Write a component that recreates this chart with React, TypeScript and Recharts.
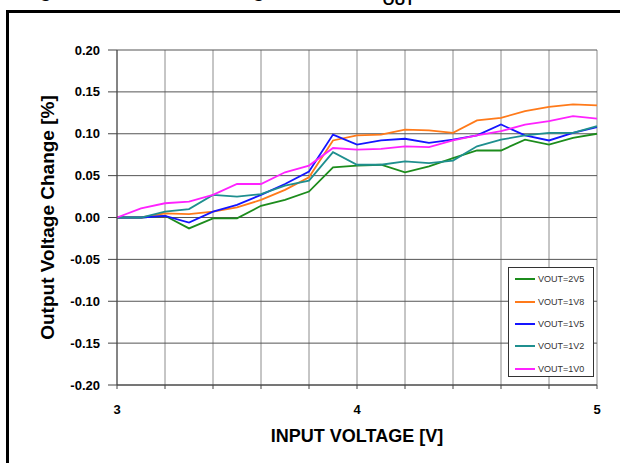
import React from 'react';
import {
  LineChart, Line, XAxis, YAxis, CartesianGrid, Legend,
} from 'recharts';

const inputVoltage = [3.0, 3.1, 3.2, 3.3, 3.4, 3.5, 3.6, 3.7, 3.8, 3.9, 4.0, 4.1, 4.2, 4.3, 4.4, 4.5, 4.6, 4.7, 4.8, 4.9, 5.0];

const vout2v5 = [0, 0, 0.002, -0.013, -0.001, -0.001, 0.014, 0.021, 0.031, 0.060, 0.062, 0.063, 0.054, 0.061, 0.071, 0.080, 0.080, 0.093, 0.087, 0.095, 0.100];
const vout1v8 = [0, 0, 0.005, 0.004, 0.007, 0.012, 0.021, 0.033, 0.048, 0.092, 0.098, 0.099, 0.105, 0.104, 0.101, 0.116, 0.119, 0.127, 0.132, 0.135, 0.134];
const vout1v5 = [0, 0, 0.002, -0.006, 0.007, 0.015, 0.027, 0.040, 0.055, 0.099, 0.087, 0.092, 0.094, 0.089, 0.093, 0.098, 0.111, 0.098, 0.092, 0.101, 0.108];
const vout1v2 = [0, 0, 0.007, 0.010, 0.027, 0.025, 0.028, 0.038, 0.044, 0.078, 0.063, 0.063, 0.067, 0.065, 0.068, 0.085, 0.093, 0.098, 0.101, 0.101, 0.109];
const vout1v0 = [0, 0.011, 0.017, 0.019, 0.027, 0.040, 0.040, 0.054, 0.062, 0.083, 0.081, 0.082, 0.085, 0.084, 0.092, 0.098, 0.103, 0.111, 0.115, 0.121, 0.118];

const xTicks = [3, 3.2, 3.4, 3.6, 3.8, 4, 4.2, 4.4, 4.6, 4.8, 5];
const yTicks = [-0.2, -0.15, -0.1, -0.05, 0, 0.05, 0.1, 0.15, 0.2];

const series = [
  { key: 'v2v5', name: 'VOUT=2V5', color: '#1c8c1c', values: vout2v5 },
  { key: 'v1v8', name: 'VOUT=1V8', color: '#ff7a1a', values: vout1v8 },
  { key: 'v1v5', name: 'VOUT=1V5', color: '#1515ff', values: vout1v5 },
  { key: 'v1v2', name: 'VOUT=1V2', color: '#1f8f8f', values: vout1v2 },
  { key: 'v1v0', name: 'VOUT=1V0', color: '#ff22ff', values: vout1v0 },
];

const data = inputVoltage.map((v, i) => {
  const row: Record<string, number> = { vin: v };
  series.forEach((s) => { row[s.key] = s.values[i]; });
  return row;
});

const FONT = 'Liberation Sans, Arial, Helvetica, sans-serif';

const LegendBox = () => (
  <div style={{
    width: 86, height: 110, boxSizing: 'border-box', border: '1px solid #333',
    background: '#fff', paddingTop: 0, fontFamily: FONT,
  }}>
    {series.map((s) => (
      <div key={s.key} style={{ display: 'flex', alignItems: 'center', height: 22.4 }}>
        <div style={{ width: 20, height: 2, background: s.color, marginLeft: 6, marginRight: 3 }} />
        <span style={{ fontSize: 9, color: '#333' }}>{s.name}</span>
      </div>
    ))}
  </div>
);

export default function App() {
  return (
    <div style={{ position: 'fixed', left: 0, top: 0, width: 620, height: 463, overflow: 'hidden', background: '#fff' }}>
      {/* title sits mostly above the page edge, like the cropped reference */}
      <div style={{
        position: 'absolute', left: 22, top: -20, fontFamily: FONT, fontWeight: 'bold',
        fontSize: 20, lineHeight: '20px', whiteSpace: 'nowrap', color: '#000',
      }}>
        Figure 10.
        <span style={{ marginLeft: 64 }}>Line Regulation vs. V</span>
        <span style={{ fontSize: 15, position: 'relative', top: 8 }}>OUT</span>
      </div>
      <div style={{
        position: 'absolute', left: 6, top: 10, width: 700, height: 600, border: '3px solid #000',
      }} />
      <div style={{ position: 'absolute', left: 0, top: 0 }}>
        <LineChart
          width={620}
          height={463}
          data={data}
          margin={{ top: 50, right: 23, bottom: 48, left: 57 }}
        >
          <CartesianGrid horizontal={false} stroke="#8c8c8c" strokeWidth={1} />
          <CartesianGrid vertical={false} stroke="#555" strokeWidth={1} />
          <XAxis
            dataKey="vin"
            type="number"
            domain={[3, 5]}
            ticks={xTicks}
            interval={0}
            height={30}
            tickSize={4}
            tickMargin={16}
            stroke="#444"
            tickFormatter={(v: number) => (Number.isInteger(v) ? String(v) : '')}
            tick={{ fill: '#000', fontSize: 13, fontWeight: 'bold', fontFamily: FONT }}
            label={{
              value: 'INPUT VOLTAGE [V]', position: 'bottom', offset: 14,
              style: { fill: '#000', fontSize: 18, fontWeight: 'bold', fontFamily: FONT },
            }}
          />
          <YAxis
            type="number"
            domain={[-0.2, 0.2]}
            ticks={yTicks}
            interval={0}
            width={60}
            tickSize={9}
            tickMargin={8}
            stroke="#444"
            tickFormatter={(v: number) => v.toFixed(2)}
            tick={{ fill: '#000', fontSize: 13, fontWeight: 'bold', fontFamily: FONT }}
            label={{
              value: 'Output Voltage Change [%]', angle: -90, position: 'insideLeft', offset: -10,
              style: { fill: '#000', fontSize: 19, fontWeight: 'bold', fontFamily: FONT, textAnchor: 'middle' },
            }}
          />
          {series.map((s) => (
            <Line
              key={s.key}
              type="linear"
              dataKey={s.key}
              name={s.name}
              stroke={s.color}
              strokeWidth={1.8}
              dot={false}
              isAnimationActive={false}
            />
          ))}
          <Legend
            layout="vertical"
            align="center"
            verticalAlign="middle"
            content={() => <LegendBox />}
            wrapperStyle={{ left: 508, top: 267, width: 86, height: 110 }}
          />
        </LineChart>
      </div>
    </div>
  );
}
